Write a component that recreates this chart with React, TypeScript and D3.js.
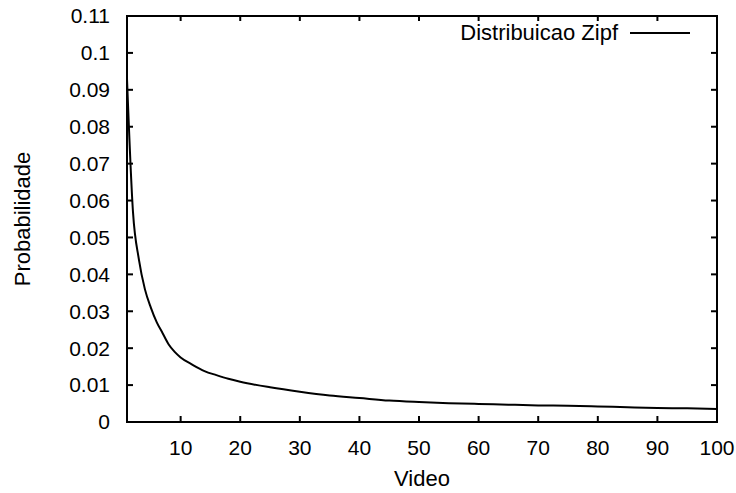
import React from "react";
import * as d3 from "d3";

const videos = [1, 2, 3, 4, 5, 6, 7, 8, 9, 10, 12, 14, 16, 18, 20, 25, 30, 35, 40, 45, 50, 55, 60, 65, 70, 75, 80, 85, 90, 95, 100];
const probabilities = [0.093, 0.057, 0.044, 0.036, 0.031, 0.027, 0.024, 0.021, 0.019, 0.0175, 0.0155, 0.0138, 0.0127, 0.0117, 0.0109, 0.0094, 0.0082, 0.0072, 0.0065, 0.0058, 0.0054, 0.0051, 0.0049, 0.0047, 0.0045, 0.0044, 0.0042, 0.004, 0.0038, 0.0037, 0.0035];
const xTicks = [10, 20, 30, 40, 50, 60, 70, 80, 90, 100];
const yTicks = [0, 0.01, 0.02, 0.03, 0.04, 0.05, 0.06, 0.07, 0.08, 0.09, 0.1, 0.11];
const yTickLabels = ["0", "0.01", "0.02", "0.03", "0.04", "0.05", "0.06", "0.07", "0.08", "0.09", "0.1", "0.11"];
const seriesName = "Distribuicao Zipf";

export default function App() {
  const W = 736, H = 493;
  const left = 127, right = 717, top = 16, bottom = 422;
  const x = d3.scaleLinear().domain([1, 100]).range([left, right]);
  const y = d3.scaleLinear().domain([0, 0.11]).range([bottom, top]);
  const data = videos.map((v, i) => [v, probabilities[i]] as [number, number]);
  const line = d3.line<[number, number]>()
    .x(d => x(d[0]))
    .y(d => y(d[1]))
    .curve(d3.curveMonotoneX);
  const font = "'Liberation Sans', Arial, Helvetica, sans-serif";
  const fsTick = 21;
  const fs = 22;
  return (
    <svg width={W} height={H} style={{ position: "absolute", left: 0, top: 0, background: "#fff" }}>
      <rect x={0} y={0} width={W} height={H} fill="#fff" />
      {yTicks.map((t, i) => (
        <g key={"y" + i}>
          <line x1={left} x2={left + 6} y1={y(t)} y2={y(t)} stroke="#000" strokeWidth={2} />
          <line x1={right} x2={right - 6} y1={y(t)} y2={y(t)} stroke="#000" strokeWidth={2} />
          <text x={110} y={y(t)} dy="0.35em" textAnchor="end" fontFamily={font} fontSize={fsTick} fill="#000">{yTickLabels[i]}</text>
        </g>
      ))}
      {xTicks.map((t, i) => (
        <g key={"x" + i}>
          <line x1={x(t)} x2={x(t)} y1={bottom} y2={bottom - 6} stroke="#000" strokeWidth={2} />
          <line x1={x(t)} x2={x(t)} y1={top} y2={top + 5} stroke="#000" strokeWidth={2} />
          <text x={x(t)} y={455} textAnchor="middle" fontFamily={font} fontSize={fsTick} fill="#000">{t}</text>
        </g>
      ))}
      <rect x={left} y={top} width={right - left} height={bottom - top} fill="none" stroke="#000" strokeWidth={2} />
      <path d={line(data) || ""} fill="none" stroke="#000" strokeWidth={2} />
      <text x={618} y={40} textAnchor="end" fontFamily={font} fontSize={fs} fill="#000">{seriesName}</text>
      <line x1={630} x2={690} y1={33} y2={33} stroke="#000" strokeWidth={2} />
      <text x={(left + right) / 2} y={486} textAnchor="middle" fontFamily={font} fontSize={fs} fill="#000">Video</text>
      <text transform={`translate(30, ${(top + bottom) / 2}) rotate(-90)`} textAnchor="middle" fontFamily={font} fontSize={fs} fill="#000">Probabilidade</text>
    </svg>
  );
}
